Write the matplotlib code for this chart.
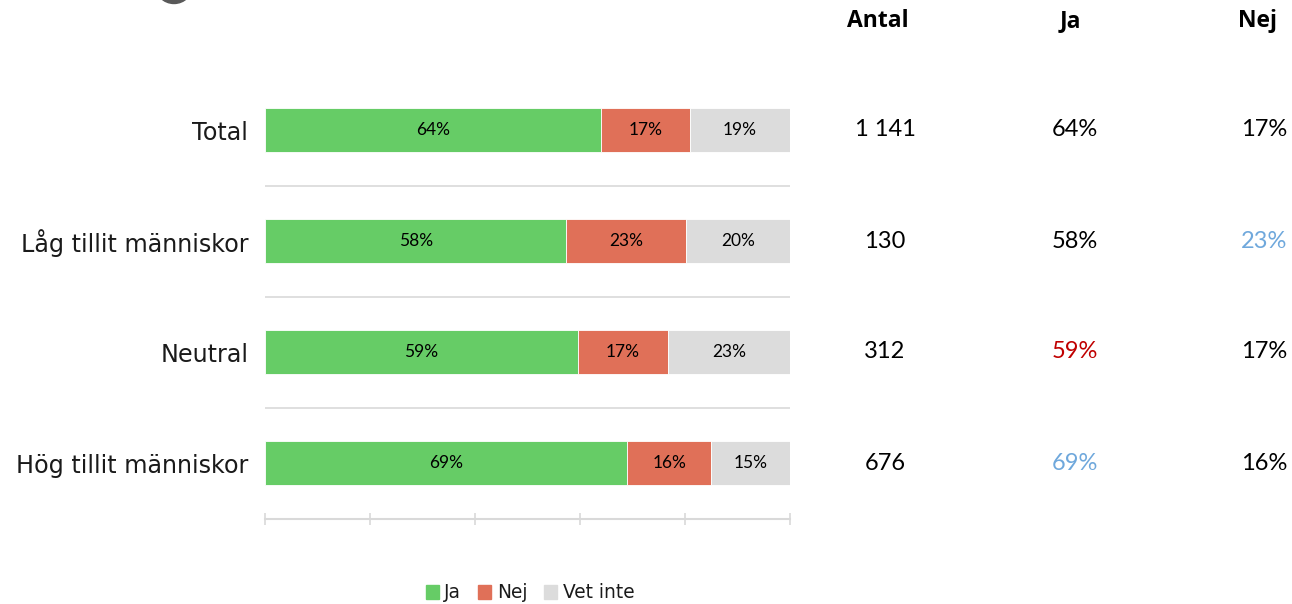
import matplotlib as mpl
import matplotlib.pyplot as plt
import numpy as np
from matplotlib.patches import Ellipse, Patch

mpl.rcParams.update({
    "font.family": ["Lato", "DejaVu Sans"],
    "font.size": 14,
})
WIDE = ["Open Sans", "DejaVu Sans"]

# ── Data ──
categories = ["Total", "Låg tillit människor", "Neutral", "Hög tillit människor"]
ja = [64, 58, 59, 69]
nej = [17, 23, 17, 16]
vet_inte = [19, 20, 23, 15]
antal = ["1 141", "130", "312", "676"]
ja_colors = ["black", "black", "#C00000", "#6FA8DC"]
nej_colors = ["black", "#6FA8DC", "black", "black"]
series_names = ["Ja", "Nej", "Vet inte"]

COLS = {"Ja": "#66CC66", "Nej": "#E07058", "Vet inte": "#DCDCDC"}
GRID = "#D9D9D9"

W, H = 1292, 604
fig = plt.figure(figsize=(W / 100, H / 100), dpi=100)
ax = fig.add_axes([265 / W, 1 - 518.5 / H, (790 - 265) / W, (518.5 - 74.5) / H])

ja_a, nej_a, vet_a = map(np.array, (ja, nej, vet_inte))
tot = ja_a + nej_a + vet_a
ja_n, nej_n, vet_n = ja_a / tot * 100, nej_a / tot * 100, vet_a / tot * 100
y = np.arange(len(categories))

ax.barh(y, ja_n, height=0.4, color=COLS["Ja"], edgecolor="white", linewidth=0.6)
ax.barh(y, nej_n, left=ja_n, height=0.4, color=COLS["Nej"], edgecolor="white", linewidth=0.6)
ax.barh(y, vet_n, left=ja_n + nej_n, height=0.4, color=COLS["Vet inte"], edgecolor="white", linewidth=0.6)

for i in range(len(categories)):
    ax.text(ja_n[i] / 2, y[i], f"{ja[i]}%", ha="center", va="center", fontsize=12.5)
    ax.text(ja_n[i] + nej_n[i] / 2, y[i], f"{nej[i]}%", ha="center", va="center", fontsize=12.5)
    ax.text(ja_n[i] + nej_n[i] + vet_n[i] / 2, y[i], f"{vet_inte[i]}%", ha="center", va="center", fontsize=12.5)

# separators between categories
for k in range(len(categories) - 1):
    ax.axhline(k + 0.5, color=GRID, linewidth=1.2)

ax.set_xlim(0, 100)
ax.set_ylim(len(categories) - 0.5, -0.5)
ax.set_yticks(y)
ax.set_yticklabels(categories, fontsize=17.2, family="DejaVu Sans", color="#1a1a1a")
ax.tick_params(axis="y", length=0, pad=12)
ax.set_xticks([0, 20, 40, 60, 80, 100])
ax.set_xticklabels([])
ax.tick_params(axis="x", direction="inout", length=9, width=1.2, color=GRID)
for s in ["top", "right", "left"]:
    ax.spines[s].set_visible(False)
ax.spines["bottom"].set_color(GRID)
ax.spines["bottom"].set_linewidth(1.5)

# ── Table on the right ──
def fy(py):
    return 1 - py / H

row_py = [130, 241, 352, 463]
hdr = dict(ha="center", va="center", fontsize=16.5, fontweight="bold", family=WIDE)
fig.text(878 / W, fy(21), "Antal", **hdr)
fig.text(1070 / W, fy(21), "Ja", **hdr)
fig.text(1257 / W, fy(21), "Nej", **hdr)
for i in range(len(categories)):
    fig.text(885 / W, fy(row_py[i]), antal[i], ha="center", va="center", fontsize=17)
    fig.text(1075 / W, fy(row_py[i]), f"{ja[i]}%", ha="center", va="center", fontsize=17, color=ja_colors[i])
    fig.text(1287 / W, fy(row_py[i]), f"{nej[i]}%", ha="right", va="center", fontsize=17, color=nej_colors[i])

# partially visible icon at the top
fig.add_artist(Ellipse((174 / W, fy(-15.5)), 38 / W, 38 / H, transform=fig.transFigure,
                       color="#595959", clip_on=False))

# legend
handles = [Patch(color=COLS[n]) for n in series_names]
fig.legend(handles, series_names, loc="center", bbox_to_anchor=(530 / W, fy(593)), ncol=3,
           frameon=False, prop={"family": "DejaVu Sans", "size": 13.4}, handlelength=0.7, handleheight=0.7,
           handletextpad=0.3, columnspacing=0.9, labelcolor="#1a1a1a")

fig.savefig("out.png", dpi=100, facecolor="white")
